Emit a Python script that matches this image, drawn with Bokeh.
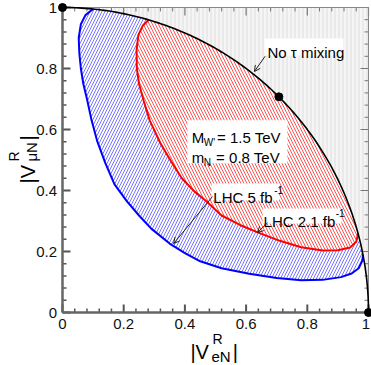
import numpy as np
from bokeh.plotting import figure
from bokeh.models import Range1d, Label, Arrow, OpenHead, BoxAnnotation
from bokeh.embed import file_html
from bokeh.resources import INLINE

# ---------------- data ----------------
ticks = [0.0, 0.2, 0.4, 0.6, 0.8, 1.0]
tick_labels = ["0", "0.2", "0.4", "0.6", "0.8", "1"]
minor_ticks = [0.04, 0.08, 0.12, 0.16, 0.24, 0.28, 0.32, 0.36, 0.44, 0.48, 0.52, 0.56,
               0.64, 0.68, 0.72, 0.76, 0.84, 0.88, 0.92, 0.96]

# unitarity bound |V_eN|^2 + |V_muN|^2 = 1 (no tau mixing) and marked points
bound_points_x = [0.0, 0.7071, 1.0]
bound_points_y = [1.0, 0.7071, 0.0]

# LHC 5 fb^-1 contour (blue)
blue_x = [0.100, 0.075, 0.060, 0.053, 0.055, 0.060, 0.068, 0.080, 0.095, 0.114, 0.140,
          0.170, 0.210, 0.250, 0.290, 0.350, 0.400, 0.450, 0.520, 0.610, 0.700, 0.780,
          0.850, 0.910, 0.945, 0.968, 0.980, 0.982]
blue_y = [0.995, 0.975, 0.945, 0.900, 0.850, 0.800, 0.750, 0.700, 0.630, 0.560, 0.490,
          0.420, 0.365, 0.318, 0.275, 0.226, 0.195, 0.168, 0.145, 0.127, 0.113, 0.106,
          0.107, 0.116, 0.128, 0.145, 0.170, 0.189]

# LHC 2.1 fb^-1 contour (red)
red_x = [0.282, 0.262, 0.248, 0.242, 0.243, 0.250, 0.265, 0.285, 0.320, 0.355, 0.390,
         0.430, 0.470, 0.520, 0.580, 0.640, 0.710, 0.780, 0.850, 0.900, 0.940, 0.960, 0.966]
red_y = [0.960, 0.940, 0.910, 0.860, 0.800, 0.750, 0.695, 0.630, 0.555, 0.495, 0.440,
         0.398, 0.365, 0.318, 0.287, 0.262, 0.235, 0.214, 0.203, 0.204, 0.213, 0.232, 0.258]

# ---------------- layout ----------------
W, H = 371, 365
FX0, FX1 = 62, 368     # frame pixel edges (x)
FY0, FY1 = 7, 312      # frame pixel edges (y, top/bottom)
sx = FX1 - FX0
sy = FY1 - FY0
FONT = "Liberation Sans"

p = figure(width=W, height=H, output_backend="svg", toolbar_location=None,
           x_range=Range1d(-FX0 / sx, (W - FX0) / sx),
           y_range=Range1d(-(H - FY1) / sy, 1 + FY0 / sy),
           min_border=0, x_axis_location=None, y_axis_location=None)
p.grid.visible = False
p.outline_line_color = None
p.background_fill_color = "white"


def arc(a0, a1, n=90):
    t = np.linspace(a0, a1, n)
    return np.cos(t), np.sin(t)


def region(cx, cy):
    a_end = np.arctan2(cy[-1], cx[-1])
    a_start = np.arctan2(cy[0], cx[0])
    ax, ay = arc(a_end, a_start)
    return list(cx) + list(ax), list(cy) + list(ay)


# excluded region (outside unitarity bound)
gx, gy = arc(np.pi / 2, 0.0)
p.patch(list(gx) + [1.0], list(gy) + [1.0], fill_color="#f5f5f5", line_color=None,
        hatch_pattern="|", hatch_color="#dedede", hatch_scale=4, hatch_weight=1)

bx, by = region(blue_x, blue_y)
p.patch(bx, by, fill_color="white", line_color=None,
        hatch_pattern="/", hatch_color="#6464ff", hatch_scale=6, hatch_weight=0.9)
rx, ry = region(red_x, red_y)
p.patch(rx, ry, fill_color="white", line_color=None,
        hatch_pattern="\\", hatch_color="#ff4040", hatch_scale=6, hatch_weight=0.9)

p.line(blue_x, blue_y, line_color="#0000ff", line_width=2)
p.line(red_x, red_y, line_color="#ff0000", line_width=2)

# ---------------- axes (drawn by hand, frame = full canvas) ----------------
maj_x, min_x = 8 / sx, 4 / sx
maj_y, min_y = 8 / sy, 4 / sy
AX = "#666666"
TK = "#555555"
n_maj, n_min = len(ticks), len(minor_ticks)
# bottom
p.segment(ticks, [0] * n_maj, ticks, [maj_y] * n_maj, line_color=TK, line_width=2)
p.segment(minor_ticks, [0] * n_min, minor_ticks, [min_y] * n_min, line_color=TK, line_width=1.5)
# left
p.segment([0] * n_maj, ticks, [maj_x] * n_maj, ticks, line_color=TK, line_width=2)
p.segment([0] * n_min, minor_ticks, [min_x] * n_min, minor_ticks, line_color=TK, line_width=1.5)
# top
p.segment(ticks, [1] * n_maj, ticks, [1 - maj_y] * n_maj, line_color="#777777", line_width=1.2)
p.segment(minor_ticks, [1] * n_min, minor_ticks, [1 - min_y] * n_min, line_color="#777777", line_width=1)
# right
p.segment([1] * n_maj, ticks, [1 - maj_x] * n_maj, ticks, line_color="#777777", line_width=1.2)
p.segment([1] * n_min, minor_ticks, [1 - min_x] * n_min, minor_ticks, line_color="#777777", line_width=1)
# frame lines
p.line([0, 1], [1, 1], line_color="#888888", line_width=1)
p.line([1, 1], [0, 1], line_color="#888888", line_width=1)
p.line([0, 0], [0, 1], line_color=AX, line_width=2.5)
p.line([0, 1], [0, 0], line_color=AX, line_width=2.5)

# tick labels (last x label nudged so it stays inside the canvas)
x_nudge = [0.0] * (n_maj - 1) + [-2.5]
p.text(ticks, [-11 / sy] * n_maj, text=tick_labels, x_offset=x_nudge,
       text_font={"value": FONT}, text_font_size="15px", text_align="center",
       text_baseline="middle", text_color="#111111")
p.text([-5.5 / sx] * n_maj, ticks, text=tick_labels, text_font={"value": FONT},
       text_font_size="15px", text_align="right", text_baseline="middle", text_color="#111111")

# unitarity circle and points
cx, cy = arc(np.pi / 2, 0.0, 150)
p.line(cx, cy, line_color="black", line_width=1.6)
p.scatter(bound_points_x, bound_points_y, size=8, color="black")


# ---------------- annotations ----------------
def box(l, r, t, b):
    p.add_layout(BoxAnnotation(left=l, right=r, top=t, bottom=b, fill_color="white",
                               fill_alpha=1, line_color=None))


def lab(x, y, text, size, angle=0):
    p.add_layout(Label(x=x, y=y, text=text, text_font=FONT, text_font_size=size,
                       text_color="black", angle=angle, angle_units="deg",
                       text_baseline="alphabetic"))


def arrow(x0, y0, x1, y1):
    p.add_layout(Arrow(end=OpenHead(size=6, line_width=1, line_color="#222222"),
                       x_start=x0, y_start=y0, x_end=x1, y_end=y1,
                       line_width=1, line_color="#222222"))


box(0.660, 0.918, 0.898, 0.843)
lab(0.670, 0.852, "No τ mixing", "15px")
arrow(0.662, 0.840, 0.627, 0.790)

box(0.408, 0.735, 0.630, 0.489)
lab(0.422, 0.574, "M", "15px")
lab(0.462, 0.557, "W'", "10px")
lab(0.505, 0.574, "= 1.5 TeV", "15px")
lab(0.422, 0.508, "m", "15px")
lab(0.462, 0.492, "N", "10px")
lab(0.502, 0.508, "= 0.8 TeV", "15px")

box(0.487, 0.708, 0.423, 0.367)
lab(0.493, 0.377, "LHC 5 fb", "15px")
lab(0.692, 0.403, "-1", "10px")
arrow(0.490, 0.380, 0.363, 0.226)

box(0.654, 0.912, 0.341, 0.292)
lab(0.657, 0.298, "LHC 2.1 fb", "15px")
lab(0.893, 0.325, "-1", "10px")
arrow(0.670, 0.294, 0.637, 0.262)

# axis titles
lab(0.418, -0.131, "|V", "20px")
lab(0.490, -0.0885, "R", "14px")
lab(0.487, -0.144, "eN", "15px")
lab(0.556, -0.131, "|", "20px")

lab(-0.114, 0.423, "|V", "20px", angle=90)
lab(-0.157, 0.495, "R", "14px", angle=90)
lab(-0.101, 0.495, "μN", "15px", angle=90)
lab(-0.114, 0.564, "|", "20px", angle=90)

open("out.html", "w").write(file_html(p, INLINE))
